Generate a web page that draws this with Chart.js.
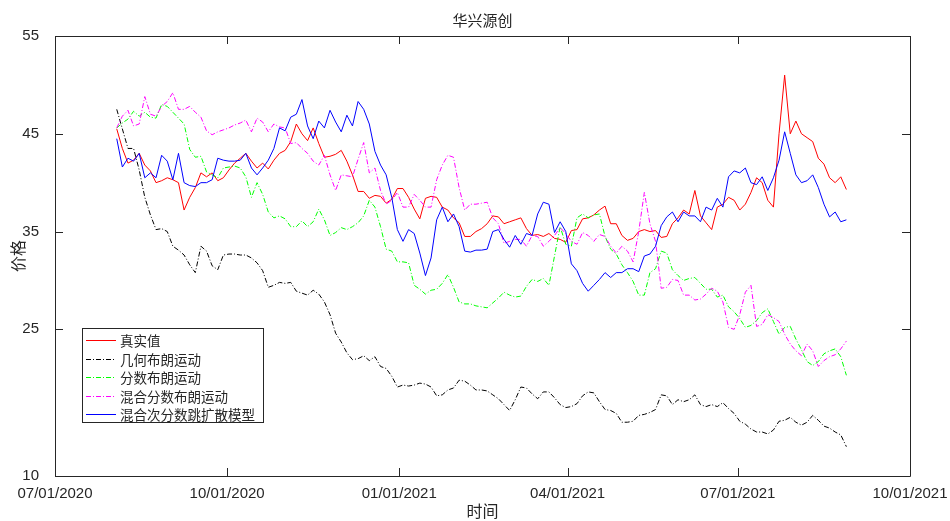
<!DOCTYPE html>
<html>
<head>
<meta charset="utf-8">
<script src="https://cdn.jsdelivr.net/npm/chart.js@4.4.1/dist/chart.umd.min.js"></script>
<style>
  html, body { margin: 0; padding: 0; background: #fff; }
  #wrap { width: 950px; height: 521px; }
</style>
</head>
<body>
<div id="wrap"><canvas id="chart" width="950" height="521"></canvas></div>
<script>
// trading dates (sampled)
const dates = [
  '2020-08-03','2020-08-06','2020-08-09','2020-08-12','2020-08-15','2020-08-18','2020-08-21','2020-08-24','2020-08-27','2020-08-30',
  '2020-09-02','2020-09-05','2020-09-08','2020-09-11','2020-09-14','2020-09-17','2020-09-20','2020-09-23','2020-09-26','2020-09-29',
  '2020-10-02','2020-10-05','2020-10-08','2020-10-11','2020-10-14','2020-10-17','2020-10-20','2020-10-23','2020-10-26','2020-10-29',
  '2020-11-01','2020-11-04','2020-11-07','2020-11-10','2020-11-13','2020-11-16','2020-11-19','2020-11-22','2020-11-25','2020-11-28',
  '2020-12-01','2020-12-04','2020-12-07','2020-12-10','2020-12-13','2020-12-16','2020-12-19','2020-12-22','2020-12-25','2020-12-28',
  '2020-12-31','2021-01-03','2021-01-06','2021-01-09','2021-01-12','2021-01-15','2021-01-18','2021-01-21','2021-01-24','2021-01-27',
  '2021-01-30','2021-02-02','2021-02-05','2021-02-08','2021-02-11','2021-02-14','2021-02-17','2021-02-20','2021-02-23','2021-02-26',
  '2021-03-01','2021-03-04','2021-03-07','2021-03-10','2021-03-13','2021-03-16','2021-03-19','2021-03-22','2021-03-25','2021-03-28',
  '2021-03-31','2021-04-03','2021-04-06','2021-04-09','2021-04-12','2021-04-15','2021-04-18','2021-04-21','2021-04-24','2021-04-27',
  '2021-04-30','2021-05-03','2021-05-06','2021-05-09','2021-05-12','2021-05-15','2021-05-18','2021-05-21','2021-05-24','2021-05-27',
  '2021-05-30','2021-06-02','2021-06-05','2021-06-08','2021-06-11','2021-06-14','2021-06-17','2021-06-20','2021-06-23','2021-06-26',
  '2021-06-29','2021-07-02','2021-07-05','2021-07-08','2021-07-11','2021-07-14','2021-07-17','2021-07-20','2021-07-23','2021-07-26',
  '2021-07-29','2021-08-01','2021-08-04','2021-08-07','2021-08-10','2021-08-13','2021-08-16','2021-08-19','2021-08-22','2021-08-25',
  '2021-08-28'
];

// 真实值
const realPrice = [
  45.5, 43.5, 42, 42.3, 43, 41.8, 41.2, 40, 40.2, 40.5,
  40.3, 40, 37.2, 38.5, 39.5, 41, 40.6, 41, 40.2, 40.5,
  41.3, 42, 42.5, 43, 42.2, 41.5, 42, 41.4, 42.3, 43,
  43.3, 44.2, 46, 45, 44.3, 45.6, 44, 42.6, 42.7, 42.9,
  43.3, 42.2, 40.8, 39.1, 39.1, 38.4, 38.7, 38.6, 37.9, 38.3,
  39.4, 39.4, 38.5, 37.3, 36.3, 38.4, 38.6, 38.5, 37.5, 37.2,
  36.4, 35.9, 34.5, 34.5, 35, 35.3, 35.8, 36.6, 36.5, 35.8,
  36, 36.2, 36.4, 35.3, 34.6, 34.7, 34.5, 34.8, 34.3, 34.2,
  33.9, 35.1, 35.2, 36.3, 36.4, 36.7, 37.2, 37.6, 35.8, 35.8,
  34.6, 34.1, 34.3, 35, 35.2, 35, 35.1, 34.4, 34.5, 35.8,
  36.4, 37.2, 36.8, 39.2, 36.6, 35.9, 35.2, 37.5, 37.8, 38.5,
  38.2, 37.2, 37.8, 39, 40.5, 40, 38.2, 37.5, 45, 51,
  45, 46.3, 45, 44.6, 44.2, 42.5, 41.9, 40.5, 40, 40.6,
  39.3
];

// 几何布朗运动
const gbm = [
  47.5, 45.5, 43.5, 43.5, 41.3, 38.5, 36.7, 35.2, 35.3, 35,
  33.5, 33.1, 32.6, 31.6, 30.8, 33.5, 33, 31.5, 31.1, 32.6,
  32.7, 32.7, 32.6, 32.6, 32.3, 31.8, 31, 29.3, 29.5, 29.8,
  29.7, 29.8, 28.9, 28.7, 28.5, 29, 28.6, 27.8, 26.5, 24.6,
  23.7, 22.6, 21.9, 22, 22.3, 21.8, 22.2, 21.2, 21, 20.2,
  19.1, 19.3, 19.2, 19.3, 19.5, 19.4, 19.1, 18.2, 18.3, 18.8,
  19, 19.8, 19.7, 19.3, 18.8, 18.8, 18.7, 18.3, 17.9, 17.3,
  16.7, 17.8, 19.1, 19, 18.4, 17.9, 18.6, 18.6, 18, 17.3,
  17, 17.1, 17.4, 18.2, 18.6, 18.5, 17.6, 16.8, 16.7, 16.4,
  15.5, 15.5, 15.6, 16.2, 16.3, 16.5, 16.8, 18.3, 18.2, 17.3,
  17.8, 17.6, 17.8, 18.3, 17.3, 17.1, 17.3, 17.1, 17.5, 16.9,
  16.4, 15.6, 15.3, 14.8, 14.5, 14.5, 14.3, 14.7, 15.6, 15.7,
  16, 15.5, 15.2, 15.5, 16.2, 15.7, 15.1, 14.9, 14.5, 14.2,
  13
];

// 分数布朗运动
const fbm = [
  45.6, 46.1, 46.5, 47.3, 46.8, 47.2, 46.7, 46.6, 48, 47.8,
  47.2, 46.6, 46, 43.4, 42.6, 42.7, 41.1, 40.8, 40.5, 41.5,
  41.6, 41.7, 41.5, 40.6, 38.5, 40, 38.8, 37, 36.4, 36.6,
  36.3, 35.5, 35.5, 36.1, 35.5, 36, 37.3, 36.2, 34.6, 34.9,
  35.4, 35.2, 35.5, 35.9, 36.6, 38.2, 37.5, 35.5, 33.2, 33,
  31.9, 31.9, 31.8, 29.5, 29.1, 28.6, 29, 29.1, 29.7, 30.6,
  29.3, 27.8, 27.6, 27.6, 27.4, 27.3, 27.2, 27.7, 28.2, 28.8,
  28.5, 28.3, 28.4, 29.4, 30.1, 29.9, 30.2, 29.5, 32.5, 35.5,
  33.7, 33.5, 36.4, 36.8, 36.4, 36.7, 36.8, 34.5, 33.2, 32.7,
  31.6, 30.8, 29.9, 28.5, 28.5, 30.8, 31.2, 33, 32.8, 31.1,
  30.5, 30, 30.2, 30.3, 29.7, 29.1, 29.1, 28.3, 28.5, 27.3,
  26.8, 26.1, 25.2, 25.4, 25.9, 26.7, 27.1, 25.8, 24.5, 25.2,
  25.3, 24, 22.9, 21.7, 21.3, 21.7, 22.5, 22.8, 23, 22.2,
  20.3
];

// 混合分数布朗运动
const mfbm = [
  45.6, 46.8, 47.4, 45.8, 46, 48.8, 47, 46.8, 47.8, 48.3,
  49.2, 47.5, 47.5, 47.8, 47.2, 46.7, 45.3, 44.9, 45.2, 45.4,
  45.6, 45.9, 46.1, 46.4, 45.2, 46.6, 46.2, 45.2, 46, 45.7,
  45.6, 44, 44.1, 43.5, 43, 42.2, 41.8, 42.8, 40.8, 39.2,
  40.8, 40.7, 40.6, 42.4, 44.1, 41, 41.5, 39.2, 37.8, 38.2,
  39, 37.5, 37.5, 38.8, 38.2, 37.5, 37.5, 40.3, 41.8, 42.8,
  42.6, 39.5, 37.2, 37.8, 37.8, 37.9, 38, 36.4, 35.8, 33.8,
  34, 34.2, 34.2, 33.5, 34.6, 34.5, 33.5, 34, 34.6, 35.4,
  34.8, 34, 33.7, 34.9, 34.6, 34, 34.7, 34.5, 33.5, 32.8,
  33.5, 33, 31.9, 35, 39, 35.8, 34, 29.2, 29.3, 30.1,
  30, 28.5, 28.5, 28, 28.1, 28.6, 29.2, 28.9, 27.8, 25.2,
  25, 26.5, 28.8, 29.5, 25.3, 25.5, 26.5, 26.2, 25.8, 24.5,
  23.5, 22.8, 22.3, 23.5, 22.8, 21.2, 21.8, 22.2, 22.4, 23,
  23.8
];

// 混合次分数跳扩散模型
const msfjd = [
  44.5, 41.6, 42.5, 42.2, 43, 40.5, 41, 40.5, 42.8, 42.2,
  40.3, 43, 40, 39.7, 39.6, 40, 40, 40.3, 42.5, 42.3,
  42.2, 42.2, 42.3, 43, 41.5, 40.8, 41.5, 42.3, 43.5, 45.6,
  45.3, 46.7, 47, 48.5, 45.8, 44.5, 46.3, 45.6, 47.4, 46.2,
  45.2, 46.9, 45.8, 48.3, 47.5, 46, 43.2, 41.8, 40.8, 38.5,
  35.2, 34, 35.2, 34.8, 32.8, 30.5, 32.3, 36.2, 37.5, 36,
  36.8, 35.5, 33, 32.9, 33.1, 33.1, 33.2, 35, 35.2, 34.2,
  33.4, 34.6, 33.7, 34.8, 34.6, 36.8, 38, 37.8, 34.9, 36,
  35, 31.7, 31, 29.7, 28.9, 29.5, 30.1, 30.8, 30.3, 30.8,
  30.8, 31.2, 31.2, 30.9, 32.5, 32.7, 33.5, 35.6, 36.5, 37,
  36, 37, 36.6, 36.6, 36, 37.5, 37.2, 38.4, 37.5, 40.6,
  41.2, 41, 41.5, 40, 39.8, 40.6, 39.2, 40.5, 42.3, 45.2,
  43, 40.8, 40, 40.2, 40.8, 39.5, 37.8, 36.5, 37, 36,
  36.2
];

const seriesNames = ['真实值', '几何布朗运动', '分数布朗运动', '混合分数布朗运动', '混合次分数跳扩散模型'];
const xTickDates = ['2020-07-01', '2020-10-01', '2021-01-01', '2021-04-01', '2021-07-01', '2021-10-01'];
const xTickLabels = ['07/01/2020', '10/01/2020', '01/01/2021', '04/01/2021', '07/01/2021', '10/01/2021'];
const yTicks = [10, 25, 35, 45, 55];

const t0 = Date.parse('2020-07-01');
const toDay = s => (Date.parse(s) - t0) / 864e5;
const days = dates.map(toDay);
const tickDays = xTickDates.map(toDay);

const axisColor = '#262626';
const cjk = '"Noto Sans CJK SC", sans-serif';
const dashDot = [5, 2, 1, 2];

const makeSet = (label, values, color, dash, order) => ({
  label,
  data: values.map((v, i) => ({ x: days[i], y: v })),
  borderColor: color,
  borderWidth: 1,
  borderDash: dash,
  pointRadius: 0,
  tension: 0,
  fill: false,
  order
});

// box, inward ticks, titles and legend in MATLAB style
const matlabAxes = {
  id: 'matlabAxes',
  afterDraw(chart) {
    const { ctx, chartArea: a, scales: { x, y } } = chart;
    ctx.save();
    ctx.strokeStyle = axisColor;
    ctx.lineWidth = 1;
    ctx.setLineDash([]);
    ctx.beginPath();
    ctx.rect(a.left + 0.5, a.top + 0.5, a.right - a.left, a.bottom - a.top);
    x.ticks.forEach(t => {
      const px = Math.round(x.getPixelForValue(t.value)) + 0.5;
      ctx.moveTo(px, a.bottom); ctx.lineTo(px, a.bottom - 8);
      ctx.moveTo(px, a.top); ctx.lineTo(px, a.top + 8);
    });
    y.ticks.forEach(t => {
      const py = Math.round(y.getPixelForValue(t.value)) + 0.5;
      ctx.moveTo(a.left, py); ctx.lineTo(a.left + 8, py);
      ctx.moveTo(a.right, py); ctx.lineTo(a.right - 8, py);
    });
    ctx.stroke();

    ctx.fillStyle = axisColor;
    ctx.textAlign = 'center';
    ctx.textBaseline = 'middle';
    ctx.font = '15px ' + cjk;
    ctx.fillText('华兴源创', (a.left + a.right) / 2, 20);
    ctx.font = '16px ' + cjk;
    ctx.fillText('时间', (a.left + a.right) / 2, 511);
    ctx.save();
    ctx.translate(18, (a.top + a.bottom) / 2);
    ctx.rotate(-Math.PI / 2);
    ctx.fillText('价格', 0, 0);
    ctx.restore();

    // legend
    const lx = 82, ly = 328, lw = 181, lh = 94;
    ctx.fillStyle = '#fff';
    ctx.fillRect(lx, ly, lw, lh);
    ctx.strokeStyle = axisColor;
    ctx.strokeRect(lx + 0.5, ly + 0.5, lw, lh);
    ctx.font = '13.5px ' + cjk;
    ctx.textAlign = 'left';
    chart.data.datasets.forEach((ds, i) => {
      const ry = Math.round(ly + 12 + i * 18.6) + 0.5;
      ctx.strokeStyle = ds.borderColor;
      ctx.setLineDash(ds.borderDash || []);
      ctx.beginPath();
      ctx.moveTo(lx + 4, ry);
      ctx.lineTo(lx + 34, ry);
      ctx.stroke();
      ctx.fillStyle = axisColor;
      ctx.fillText(ds.label, lx + 38, ry);
    });
    ctx.restore();
  }
};

new Chart(document.getElementById('chart'), {
  type: 'line',
  data: {
    datasets: [
      makeSet(seriesNames[0], realPrice, '#ff0000', [], 4),
      makeSet(seriesNames[1], gbm, '#000000', dashDot, 3),
      makeSet(seriesNames[2], fbm, '#00ff00', dashDot, 2),
      makeSet(seriesNames[3], mfbm, '#ff00ff', dashDot, 1),
      makeSet(seriesNames[4], msfjd, '#0000ff', [], 0)
    ]
  },
  options: {
    responsive: false,
    animation: false,
    devicePixelRatio: 1,
    layout: { padding: { left: 0, right: 40, top: 36, bottom: 0 } },
    plugins: {
      legend: { display: false },
      title: { display: false },
      tooltip: { enabled: false }
    },
    scales: {
      x: {
        type: 'linear',
        min: tickDays[0],
        max: tickDays[tickDays.length - 1],
        grid: { display: false },
        border: { display: false },
        afterFit: s => { s.height = 45; },
        afterBuildTicks: s => { s.ticks = tickDays.map(v => ({ value: v })); },
        ticks: {
          autoSkip: false,
          maxRotation: 0,
          padding: 1,
          color: axisColor,
          font: { family: '"Liberation Sans", Arial, sans-serif', size: 15 },
          callback: v => xTickLabels[tickDays.indexOf(v)]
        }
      },
      y: {
        min: 10,
        max: 55,
        grid: { display: false },
        border: { display: false },
        afterFit: s => { s.width = 55; },
        afterBuildTicks: s => { s.ticks = yTicks.map(v => ({ value: v })); },
        ticks: {
          padding: 8,
          color: axisColor,
          font: { family: '"Liberation Sans", Arial, sans-serif', size: 15 }
        }
      }
    }
  },
  plugins: [matlabAxes]
});
</script>
</body>
</html>
